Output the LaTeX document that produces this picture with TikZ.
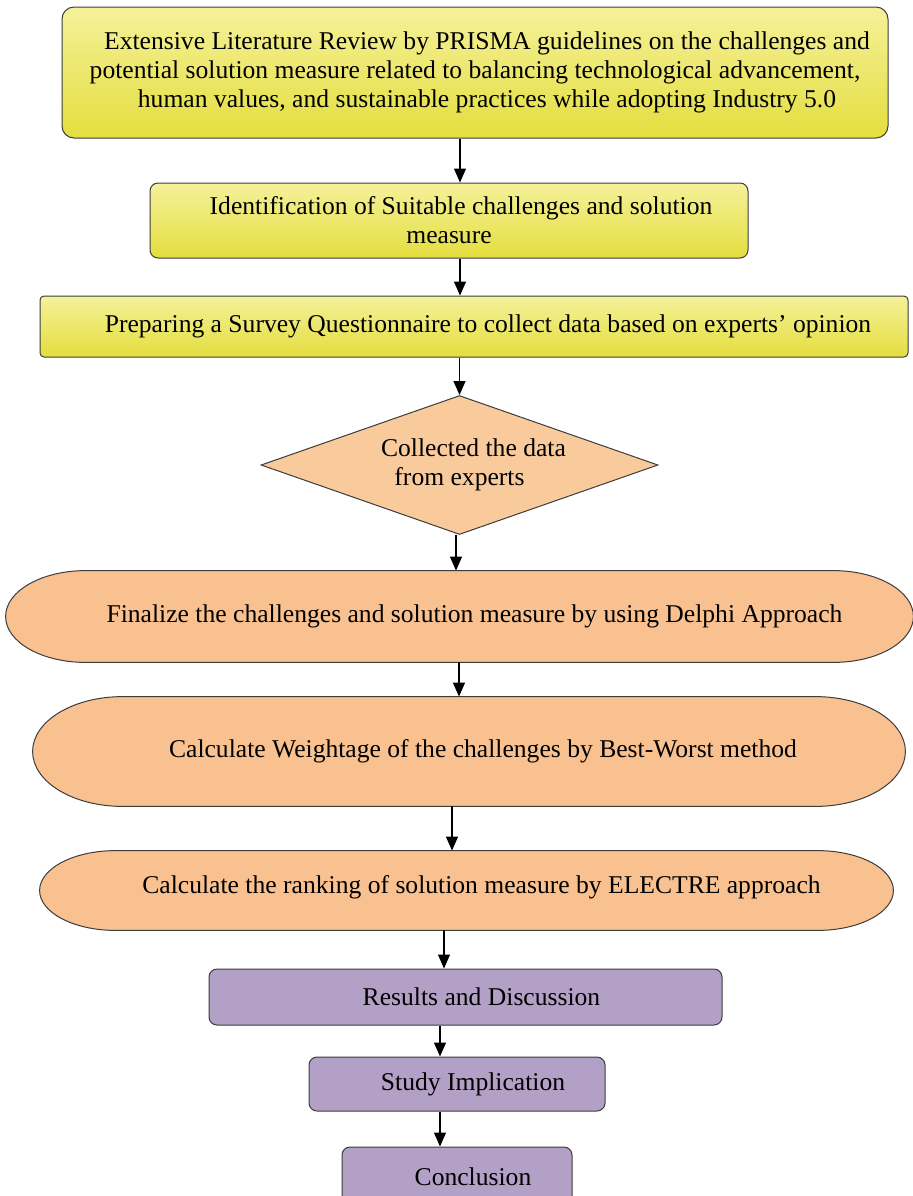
\documentclass[tikz,border=0pt]{standalone}
\usepackage{fontspec}
\setmainfont{Liberation Serif}
\usetikzlibrary{arrows.meta,positioning,calc,shapes.geometric,backgrounds}

\definecolor{boxline}{RGB}{60,60,60}
\definecolor{yelltop}{RGB}{245,241,154}
\definecolor{yellbot}{RGB}{228,222,62}
\definecolor{peach}{RGB}{248,193,143}
\definecolor{peachlt}{RGB}{249,203,156}
\definecolor{lilac}{RGB}{179,160,199}

% outline of a pill with elliptic ends, around a named node
\newcommand\pilloutline[2]{%
  \path[ovalfill] let \p1=(#1.north west), \p2=(#1.south east), \n1={(\y1-\y2)/2} in
    (\x1+#2,\y1) -- (\x2-#2,\y1) arc[start angle=90, end angle=-90, x radius=#2, y radius=\n1]
    -- (\x1+#2,\y2) arc[start angle=270, end angle=90, x radius=#2, y radius=\n1] -- cycle;}

\begin{document}
\begin{tikzpicture}[
    x=0.5pt, y=-0.5pt,
    txt/.style={font=\fontsize{12.8}{14.5}\selectfont, align=center},
    nudge/.style={execute at begin node={\hspace*{#1}}},
    yellbox/.style={txt, draw=boxline, line width=0.5pt, rounded corners=4pt, top color=yelltop, bottom color=yellbot},
    decision/.style={txt, diamond, draw=boxline, line width=0.5pt, fill=peachlt, inner sep=0pt, aspect=2.86, minimum width=198.5pt, minimum height=69.5pt},
    ovalnode/.style={txt, inner sep=0pt},
    ovalfill/.style={draw=boxline, line width=0.5pt, fill=peach},
    endbox/.style={txt, draw=boxline, line width=0.5pt, rounded corners=4pt, fill=lilac},
    arr/.style={-{Triangle[length=7pt, width=6pt]}, line width=0.6pt}
]
\useasboundingbox (0,0) rectangle (913,1196);

\node[yellbox, rounded corners=6pt, minimum width=413pt, minimum height=65.5pt] (litrev) at (475,72.5)
    {\hspace*{12pt}Extensive Literature Review by PRISMA guidelines on the challenges and\\
     potential solution measure related to balancing technological advancement,\hspace*{4pt}\\
     \hspace*{12pt}human values, and sustainable practices while adopting Industry 5.0};
\node[yellbox, minimum width=299pt, minimum height=37.5pt] (ident) at (449,220.5)
    {\hspace*{12pt}Identification of Suitable challenges and solution\\measure};
\node[yellbox, rounded corners=2pt, nudge=14pt, minimum width=434pt, minimum height=30.5pt] (survey) at (474,326.5)
    {Preparing a Survey Questionnaire to collect data based on experts' opinion};
\node[decision] (collect) at (459.5,465) {\hspace*{14pt}Collected the data\\from experts};
\node[ovalnode, nudge=15pt, minimum width=453.5pt, minimum height=45.5pt] (delphi) at (459.5,616.5)
    {Finalize the challenges and solution measure by using Delphi Approach};
\node[ovalnode, nudge=14pt, minimum width=436pt, minimum height=54.5pt] (bwm) at (469,751.5)
    {Calculate Weightage of the challenges by Best-Worst method};
\node[ovalnode, nudge=15pt, minimum width=426.5pt, minimum height=39.5pt] (electre) at (466.5,890.5)
    {\raisebox{6pt}{Calculate the ranking of solution measure by ELECTRE approach}};
\node[endbox, nudge=16pt, minimum width=256.5pt, minimum height=28pt] (results) at (465.5,997) {Results and Discussion};
\node[endbox, nudge=16pt, minimum width=148pt, minimum height=27pt] (implic) at (457,1084) {Study Implication};
\node[endbox, nudge=16pt, minimum width=115pt, minimum height=30pt] (concl) at (457,1177) {Conclusion};

\begin{pgfonlayer}{background}
  \pilloutline{delphi}{40pt}
  \pilloutline{bwm}{45pt}
  \pilloutline{electre}{38pt}
\end{pgfonlayer}

\draw[arr] (litrev.south -| 460,0) -- (ident.north -| 460,0);
\draw[arr] (ident.south -| 460,0) -- (survey.north -| 460,0);
\draw[arr] (survey.south -| collect.north) -- (collect.north);
\draw[arr] (collect.south -| 456,0) -- (delphi.north -| 456,0);
\draw[arr] (delphi.south -| 459,0) -- (bwm.north -| 459,0);
\draw[arr] (bwm.south -| 452,0) -- (electre.north -| 452,0);
\draw[arr] (electre.south -| 444,0) -- (results.north -| 444,0);
\draw[arr] (results.south -| 440,0) -- (implic.north -| 440,0);
\draw[arr] (implic.south -| 440,0) -- (concl.north -| 440,0);
\end{tikzpicture}
\end{document}
